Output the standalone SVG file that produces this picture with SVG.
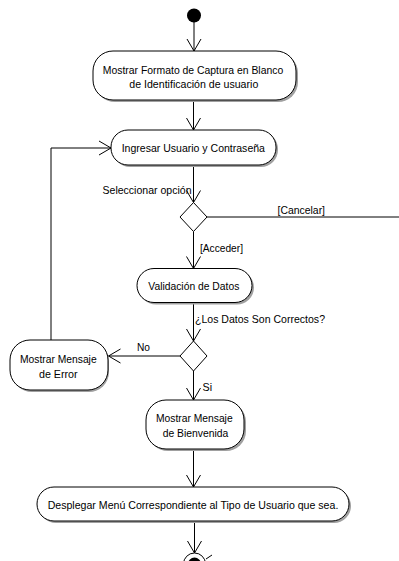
<svg xmlns="http://www.w3.org/2000/svg" width="399" height="561" viewBox="0 0 399 561">
<style>
.node{fill:#fff;stroke:#000;stroke-width:1}
.shadow{fill:#a0a0a0;stroke:none}
.t{font-family:"Liberation Sans",Arial,sans-serif;font-size:11px;fill:#000}
.m{text-anchor:middle}
.c{fill:none;stroke:#000;stroke-width:1}
</style>
<defs>
<marker id="arr" markerUnits="userSpaceOnUse" viewBox="-13 -8 14 16" refX="0" refY="0" markerWidth="14" markerHeight="16" orient="auto">
<path d="M-12,-7 L0,0 L-12,7" fill="none" stroke="#000" stroke-width="1"/>
</marker>
</defs>
<rect width="399" height="561" fill="#fff"/>
<g id="connectors">
<line class="c" x1="194" y1="22" x2="194" y2="51" marker-end="url(#arr)"/>
<line class="c" x1="193.5" y1="100" x2="193.5" y2="130" marker-end="url(#arr)"/>
<line class="c" x1="193.5" y1="165" x2="193.5" y2="202.5" marker-end="url(#arr)"/>
<line class="c" x1="207" y1="217" x2="399" y2="217"/>
<line class="c" x1="193.5" y1="231.5" x2="193.5" y2="268.5" marker-end="url(#arr)"/>
<line class="c" x1="193.5" y1="302.5" x2="193.5" y2="341" marker-end="url(#arr)"/>
<line class="c" x1="180" y1="356" x2="108.5" y2="356" marker-end="url(#arr)"/>
<line class="c" x1="193.5" y1="371" x2="193.5" y2="400" marker-end="url(#arr)"/>
<polyline class="c" points="51,340 51,148 111,148" marker-end="url(#arr)"/>
<line class="c" x1="193.5" y1="449" x2="193.5" y2="487" marker-end="url(#arr)"/>
<line class="c" x1="194.5" y1="521" x2="194.5" y2="553" marker-end="url(#arr)"/>
<line class="c" x1="206" y1="559" x2="212" y2="555"/>
<text class="t" x="102.5" y="193.5" textLength="89" lengthAdjust="spacingAndGlyphs">Seleccionar opción</text>
<text class="t" x="277.5" y="214" textLength="47.5" lengthAdjust="spacingAndGlyphs">[Cancelar]</text>
<text class="t" x="200" y="252" textLength="43" lengthAdjust="spacingAndGlyphs">[Acceder]</text>
<text class="t" x="195" y="322.5" textLength="130" lengthAdjust="spacingAndGlyphs">¿Los Datos Son Correctos?</text>
<text class="t" x="137" y="351" textLength="13" lengthAdjust="spacingAndGlyphs">No</text>
<text class="t" x="202.5" y="390.5" textLength="9.5" lengthAdjust="spacingAndGlyphs">Si</text>
</g>
<g id="start">
<circle cx="194" cy="15.5" r="7" fill="#000"/>
</g>
<g id="n1">
<rect class="shadow" x="95" y="53" width="203" height="49" rx="20"/>
<rect class="node" x="93" y="51" width="203" height="49" rx="20"/>
<text class="t m" x="193" y="74" textLength="180.5" lengthAdjust="spacingAndGlyphs">Mostrar Formato de Captura en Blanco</text>
<text class="t m" x="193.8" y="88.3" textLength="129" lengthAdjust="spacingAndGlyphs">de Identificación de usuario</text>
</g>
<g id="n2">
<rect class="shadow" x="113" y="132" width="165" height="35" rx="17"/>
<rect class="node" x="111" y="130" width="165" height="35" rx="17"/>
<text class="t m" x="193.3" y="152" textLength="143.3" lengthAdjust="spacingAndGlyphs">Ingresar Usuario y Contraseña</text>
</g>
<g id="d1">
<polygon class="node" points="193.5,202.5 207,217 193.5,231.5 180,217"/>
</g>
<g id="n3">
<rect class="shadow" x="139" y="270.5" width="115" height="34" rx="17"/>
<rect class="node" x="137" y="268.5" width="115" height="34" rx="17"/>
<text class="t m" x="193.8" y="290" textLength="91" lengthAdjust="spacingAndGlyphs">Validación de Datos</text>
</g>
<g id="d2">
<polygon class="node" points="193.5,341 207,356 193.5,371 180,356"/>
</g>
<g id="n4">
<rect class="shadow" x="12" y="342" width="97" height="50" rx="20"/>
<rect class="node" x="10" y="340" width="98" height="50" rx="20"/>
<text class="t m" x="58.3" y="362.7" textLength="76.7" lengthAdjust="spacingAndGlyphs">Mostrar Mensaje</text>
<text class="t m" x="58.3" y="377.7" textLength="38.7" lengthAdjust="spacingAndGlyphs">de Error</text>
</g>
<g id="n5">
<rect class="shadow" x="148" y="402" width="98" height="49" rx="20"/>
<rect class="node" x="146" y="400" width="98" height="49" rx="20"/>
<text class="t m" x="194.3" y="421.7" textLength="76.7" lengthAdjust="spacingAndGlyphs">Mostrar Mensaje</text>
<text class="t m" x="195.5" y="436.7" textLength="65.7" lengthAdjust="spacingAndGlyphs">de Bienvenida</text>
</g>
<g id="n6">
<rect class="shadow" x="39" y="489" width="312" height="34" rx="17"/>
<rect class="node" x="37" y="487" width="312" height="34" rx="17"/>
<text class="t m" x="193" y="509" textLength="290.7" lengthAdjust="spacingAndGlyphs">Desplegar Menú Correspondiente al Tipo de Usuario que sea.</text>
</g>
<g id="end">
<circle cx="194.5" cy="564" r="11" fill="#fff" stroke="#000" stroke-width="1"/>
<circle cx="194.5" cy="564" r="6.5" fill="#000"/>
</g>
</svg>
